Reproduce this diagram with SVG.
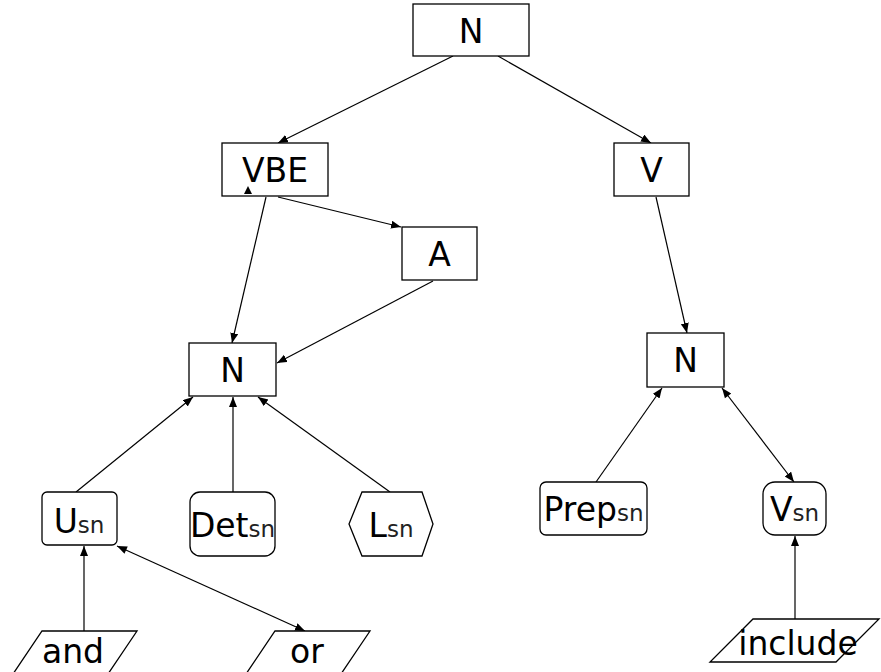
<svg xmlns="http://www.w3.org/2000/svg" width="881" height="672" viewBox="0 0 881 672">
  <style>
    .box { fill: #fff; stroke: #000; stroke-width: 1.3; }
    .lbl { font-family: "DejaVu Sans", sans-serif; font-size: 33px; fill: #000; text-anchor: middle; }
    .sub { font-size: 23px; fill: #222; }
    .edge { fill: none; stroke: #000; stroke-width: 1.2; }
  </style>
  <defs>
    <marker id="arr" markerUnits="userSpaceOnUse" markerWidth="12" markerHeight="10" refX="10" refY="4" orient="auto">
      <path d="M0,0 L10,4 L0,8 Z" fill="#000"/>
    </marker>
    <marker id="arrStart" markerUnits="userSpaceOnUse" markerWidth="12" markerHeight="10" refX="0" refY="4" orient="auto">
      <path d="M10,0 L0,4 L10,8 Z" fill="#000"/>
    </marker>
  </defs>
  <rect width="881" height="672" fill="#fff"/>

  <!-- connectors -->
  <g id="connectors">
    <line class="edge" x1="453" y1="56" x2="278" y2="143" marker-end="url(#arr)"/>
    <line class="edge" x1="498" y1="56" x2="651" y2="143" marker-end="url(#arr)"/>
    <line class="edge" x1="278" y1="197" x2="401" y2="227" marker-end="url(#arr)"/>
    <line class="edge" x1="266" y1="197" x2="232" y2="343" marker-end="url(#arr)"/>
    <line class="edge" x1="433" y1="281" x2="277" y2="363" marker-end="url(#arr)"/>
    <line class="edge" x1="76" y1="492" x2="193" y2="397" marker-end="url(#arr)"/>
    <line class="edge" x1="233" y1="492" x2="233" y2="397" marker-end="url(#arr)"/>
    <line class="edge" x1="390" y1="492" x2="258" y2="397" marker-end="url(#arr)"/>
    <line class="edge" x1="84" y1="631" x2="84" y2="546" marker-end="url(#arr)"/>
    <line class="edge" x1="117" y1="546" x2="305" y2="631" marker-start="url(#arrStart)" marker-end="url(#arr)"/>
    <line class="edge" x1="656" y1="197" x2="687" y2="333" marker-end="url(#arr)"/>
    <line class="edge" x1="596" y1="482" x2="662" y2="388" marker-end="url(#arr)"/>
    <line class="edge" x1="722" y1="388" x2="794" y2="482" marker-start="url(#arrStart)" marker-end="url(#arr)"/>
    <line class="edge" x1="795" y1="619" x2="795" y2="536" marker-end="url(#arr)"/>
  </g>

  <!-- nodes -->
  <g id="n-root">
    <rect class="box" x="413" y="4" width="116" height="52"/>
    <text class="lbl" x="471" y="43">N</text>
  </g>
  <g id="n-vbe">
    <rect class="box" x="222" y="143" width="106" height="53"/>
    <text class="lbl" x="275" y="182">VBE</text>
    <path d="M248,186 L244,194 L252,194 Z" fill="#000"/>
  </g>
  <g id="n-a">
    <rect class="box" x="402" y="227" width="75" height="53"/>
    <text class="lbl" x="439.5" y="266">A</text>
  </g>
  <g id="n-v">
    <rect class="box" x="614" y="143" width="75" height="53"/>
    <text class="lbl" x="651.5" y="182">V</text>
  </g>
  <g id="n-mid">
    <rect class="box" x="189" y="343" width="87" height="53"/>
    <text class="lbl" x="232.5" y="382">N</text>
  </g>
  <g id="n-right">
    <rect class="box" x="647" y="333" width="77" height="54"/>
    <text class="lbl" x="685.5" y="372">N</text>
  </g>
  <g id="n-usn">
    <rect class="box" x="42" y="492" width="75" height="53" rx="5"/>
    <text class="lbl" x="79" y="533">U<tspan class="sub">sn</tspan></text>
  </g>
  <g id="n-detsn">
    <rect class="box" x="190" y="492" width="85" height="64" rx="10"/>
    <text class="lbl" x="232.5" y="537">Det<tspan class="sub">sn</tspan></text>
  </g>
  <g id="n-lsn">
    <polygon class="box" points="362,492 422,492 433,524 422,556 362,556 349,524"/>
    <text class="lbl" x="391" y="537">L<tspan class="sub">sn</tspan></text>
  </g>
  <g id="n-prepsn">
    <rect class="box" x="540" y="482" width="107" height="53" rx="6"/>
    <text class="lbl" x="593.5" y="521">Prep<tspan class="sub">sn</tspan></text>
  </g>
  <g id="n-vsn">
    <rect class="box" x="763" y="482" width="63" height="53" rx="12"/>
    <text class="lbl" x="794.5" y="521">V<tspan class="sub">sn</tspan></text>
  </g>
  <g id="n-and">
    <polygon class="box" points="42,631 137,631 108,674 13,674"/>
    <text class="lbl" x="73" y="663">and</text>
  </g>
  <g id="n-or">
    <polygon class="box" points="275,631 370,631 341,674 246,674"/>
    <text class="lbl" x="307" y="663">or</text>
  </g>
  <g id="n-include">
    <polygon class="box" points="753,619 879,619 836,662 710,662"/>
    <text class="lbl" x="798" y="655">include</text>
  </g>
</svg>
